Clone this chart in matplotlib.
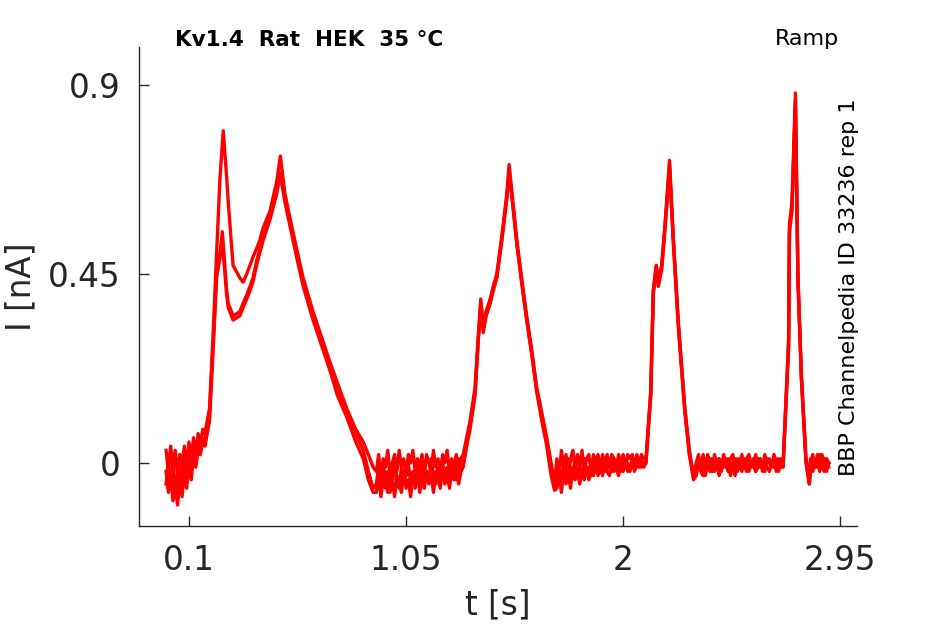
import numpy as np
import matplotlib
matplotlib.use("Agg")
from matplotlib import pyplot as plt

# time points [s], shared by the three repetitions
t_s = [0.00, 0.01, 0.02, 0.03, 0.04, 0.05, 0.06, 0.07, 0.08, 0.09,
       0.10, 0.11, 0.12, 0.13, 0.14, 0.15, 0.16, 0.17, 0.18, 0.19,
       # first ramp
       0.206, 0.221, 0.236, 0.246, 0.25, 0.265, 0.272, 0.293, 0.323, 0.337,
       0.353, 0.367, 0.38, 0.396, 0.41, 0.425, 0.455, 0.484, 0.50, 0.52,
       0.571, 0.60, 0.643, 0.68, 0.717, 0.75, 0.79, 0.83, 0.863, 0.885, 0.906,
       # baseline
       0.92, 0.93, 0.94, 0.95, 0.96, 0.97, 0.98, 0.99, 1.00, 1.01,
       1.02, 1.03, 1.04, 1.05, 1.06, 1.07, 1.08, 1.09, 1.10, 1.11,
       1.12, 1.13, 1.14, 1.15, 1.16, 1.17, 1.18, 1.19, 1.20, 1.21,
       1.22, 1.23, 1.24, 1.25, 1.26, 1.27, 1.28, 1.29, 1.30,
       # second ramp
       1.33, 1.352, 1.367, 1.377, 1.388, 1.40, 1.418, 1.432, 1.447, 1.469, 1.491,
       1.501, 1.518, 1.535, 1.556, 1.578, 1.60, 1.622, 1.644, 1.666, 1.685, 1.70,
       # baseline
       1.71, 1.72, 1.73, 1.74, 1.75, 1.76, 1.77, 1.78, 1.79, 1.80,
       1.81, 1.82, 1.83, 1.84, 1.85, 1.86, 1.87, 1.88, 1.89, 1.90,
       1.91, 1.92, 1.93, 1.94, 1.95, 1.96, 1.97, 1.98, 1.99, 2.00,
       2.01, 2.02, 2.03, 2.04, 2.05, 2.06, 2.07, 2.08, 2.09, 2.10,
       # third ramp
       2.121, 2.132, 2.145, 2.154, 2.169, 2.184, 2.203, 2.22, 2.242, 2.27, 2.29, 2.308,
       # baseline
       2.32, 2.33, 2.34, 2.35, 2.36, 2.37, 2.38, 2.39, 2.40, 2.41,
       2.42, 2.43, 2.44, 2.45, 2.46, 2.47, 2.48, 2.49, 2.50, 2.51,
       2.52, 2.53, 2.54, 2.55, 2.56, 2.57, 2.58, 2.59, 2.60, 2.61,
       2.62, 2.63, 2.64, 2.65, 2.66, 2.67, 2.68, 2.69, 2.70,
       # fourth ramp
       2.724, 2.728, 2.739, 2.754, 2.765, 2.78, 2.80, 2.815,
       # baseline
       2.82, 2.83, 2.84, 2.85, 2.86, 2.87, 2.88, 2.89, 2.90]

# current [nA], repetition with the tall first peak
i_rep1 = [0.03, -0.02, 0.04, -0.01, 0.03, -0.03, 0.02, 0.00, 0.04, -0.01,
          0.05, 0.01, 0.06, 0.02, 0.07, 0.04, 0.08, 0.07, 0.10, 0.13,
          0.31, 0.50, 0.68, 0.76, 0.79, 0.68, 0.62, 0.47, 0.44, 0.43,
          0.45, 0.47, 0.49, 0.51, 0.53, 0.56, 0.60, 0.67, 0.73, 0.64,
          0.51, 0.44, 0.36, 0.30, 0.24, 0.19, 0.13, 0.08, 0.05, 0.02, -0.01,
          -0.02, 0.02, -0.04, 0.01, -0.01, 0.03, -0.03, 0.00, 0.02, -0.02,
          0.03, -0.01, 0.01, -0.03, 0.02, 0.00, 0.03, -0.02, 0.01, -0.01,
          0.02, -0.03, 0.02, 0.00, -0.02, 0.03, -0.01, 0.01, -0.02, 0.02,
          0.00, 0.03, -0.02, 0.01, -0.01, 0.02, -0.02, 0.01, 0.02,
          0.10, 0.18, 0.31, 0.39, 0.33, 0.36, 0.39, 0.42, 0.45, 0.54, 0.64,
          0.71, 0.62, 0.53, 0.44, 0.35, 0.27, 0.18, 0.12, 0.06, 0.00, -0.05,
          0.01, -0.03, 0.03, -0.01, 0.02, -0.04, 0.01, 0.03, -0.02, 0.02,
          -0.01, 0.03, -0.02, 0.01, 0.02, -0.02, 0.02, 0.00, 0.02, -0.01,
          0.02, 0.00, 0.02, -0.01, 0.02, 0.01, -0.01, 0.02, 0.00, 0.02,
          -0.01, 0.02, 0.01, 0.02, -0.01, 0.02, 0.00, 0.02, 0.01, 0.01,
          0.17, 0.41, 0.47, 0.43, 0.47, 0.57, 0.72, 0.53, 0.33, 0.13, 0.03, -0.03,
          0.00, 0.02, -0.02, 0.01, -0.01, 0.02, 0.00, -0.02, 0.02, 0.00,
          0.01, -0.01, 0.02, 0.00, -0.02, 0.01, 0.02, -0.01, 0.01, 0.00,
          0.02, -0.01, 0.01, 0.02, 0.00, -0.01, 0.02, 0.00, 0.01, -0.01,
          0.02, 0.00, 0.01, -0.01, 0.02, 0.00, 0.01, -0.01, 0.00,
          0.29, 0.57, 0.62, 0.88, 0.45, 0.21, 0.01, -0.04,
          0.00, 0.02, -0.01, 0.01, -0.02, 0.02, 0.00, 0.01, -0.01]

# repetitions with the smaller first peak
i_rep2 = [-0.05, 0.01, -0.06, 0.00, -0.08, -0.02, -0.06, 0.01, -0.04, 0.02,
          -0.02, 0.02, 0.00, 0.04, 0.02, 0.05, 0.05, 0.06, 0.09, 0.12,
          0.29, 0.46, 0.50, 0.55, 0.52, 0.41, 0.38, 0.35, 0.36, 0.38,
          0.40, 0.42, 0.44, 0.48, 0.51, 0.55, 0.59, 0.65, 0.68, 0.63,
          0.50, 0.43, 0.35, 0.29, 0.23, 0.18, 0.12, 0.07, 0.03, -0.02, -0.06,
          -0.05, -0.01, -0.06, 0.00, -0.04, -0.07, -0.02, -0.05, 0.01, -0.04,
          -0.06, -0.01, -0.05, -0.03, 0.00, -0.05, -0.02, -0.06, -0.01, -0.04,
          0.00, -0.05, -0.02, -0.04, 0.01, -0.03, -0.05, -0.01, -0.04, 0.00,
          -0.03, -0.01, -0.04, 0.00, -0.02, -0.04, 0.01, -0.02, 0.00,
          0.08, 0.16, 0.30, 0.37, 0.32, 0.35, 0.38, 0.42, 0.44, 0.53, 0.63,
          0.69, 0.61, 0.52, 0.43, 0.34, 0.26, 0.17, 0.11, 0.05, -0.02, -0.06,
          -0.04, 0.00, -0.05, -0.01, -0.03, 0.01, -0.04, -0.02, 0.00, -0.03,
          -0.01, -0.03, 0.01, -0.02, -0.01, -0.03, 0.00, -0.02, 0.01, -0.02,
          0.00, -0.02, 0.01, -0.01, -0.02, 0.01, -0.01, 0.00, -0.02, 0.01,
          -0.01, 0.00, -0.02, 0.01, 0.00, -0.01, 0.01, -0.01, 0.00, 0.00,
          0.16, 0.40, 0.46, 0.42, 0.46, 0.56, 0.70, 0.52, 0.32, 0.12, 0.02, -0.04,
          -0.03, 0.00, -0.02, -0.03, 0.01, -0.01, -0.02, 0.01, -0.02, 0.00,
          -0.03, 0.00, -0.01, 0.01, -0.02, -0.01, 0.00, -0.03, 0.00, -0.01,
          -0.02, 0.01, -0.01, -0.02, 0.00, 0.01, -0.02, -0.01, 0.01, -0.02,
          0.00, -0.01, -0.02, 0.00, -0.01, 0.01, -0.02, 0.00, -0.01,
          0.27, 0.55, 0.60, 0.85, 0.43, 0.20, 0.00, -0.05,
          -0.02, 0.01, -0.01, 0.02, 0.00, -0.01, 0.01, -0.02, 0.00]

i_rep3 = [-0.02, -0.07, -0.03, -0.09, -0.05, -0.10, -0.04, -0.08, -0.02, -0.06,
          0.00, -0.04, 0.02, -0.01, 0.03, 0.02, 0.05, 0.04, 0.07, 0.10,
          0.27, 0.44, 0.49, 0.53, 0.50, 0.40, 0.37, 0.34, 0.35, 0.37,
          0.39, 0.41, 0.43, 0.47, 0.50, 0.53, 0.58, 0.64, 0.69, 0.62,
          0.49, 0.42, 0.34, 0.28, 0.22, 0.16, 0.11, 0.05, 0.01, -0.04, -0.07,
          -0.07, -0.03, -0.08, -0.04, -0.06, -0.02, -0.07, -0.04, -0.08, -0.03,
          -0.05, -0.07, -0.02, -0.06, -0.04, -0.08, -0.03, -0.05, -0.02, -0.07,
          -0.04, -0.06, -0.02, -0.05, -0.03, -0.07, -0.02, -0.04, -0.06, -0.01,
          -0.05, -0.03, -0.06, -0.02, -0.04, -0.01, -0.05, -0.02, -0.01,
          0.09, 0.17, 0.30, 0.38, 0.31, 0.35, 0.38, 0.41, 0.44, 0.53, 0.63,
          0.70, 0.61, 0.52, 0.43, 0.34, 0.26, 0.17, 0.10, 0.04, -0.03, -0.065,
          -0.06, -0.03, -0.07, -0.02, -0.05, -0.03, -0.06, -0.01, -0.04, -0.02,
          -0.05, -0.02, -0.04, -0.01, -0.04, -0.02, -0.03, 0.00, -0.03, -0.01,
          -0.03, 0.00, -0.02, -0.03, 0.00, -0.02, -0.01, -0.03, 0.00, -0.02,
          0.00, -0.02, -0.01, 0.00, -0.02, 0.00, -0.01, 0.01, -0.01, 0.00,
          0.17, 0.41, 0.47, 0.43, 0.47, 0.57, 0.71, 0.53, 0.33, 0.13, 0.02, -0.03,
          -0.02, 0.01, -0.01, 0.02, -0.03, 0.00, 0.01, -0.02, 0.00, -0.01,
          0.01, -0.02, 0.00, -0.01, 0.01, -0.03, 0.00, 0.01, -0.02, 0.01,
          -0.01, 0.00, -0.02, 0.01, -0.01, 0.00, -0.02, 0.01, -0.01, 0.00,
          -0.02, 0.01, 0.00, -0.01, 0.01, -0.02, 0.00, 0.01, -0.01,
          0.28, 0.56, 0.61, 0.86, 0.44, 0.21, 0.01, -0.05,
          0.01, -0.02, 0.00, -0.01, 0.02, -0.01, -0.02, 0.01, 0.00]

x_ticks = [0.1, 1.05, 2, 2.95]
x_ticklabels = ["0.1", "1.05", "2", "2.95"]
y_ticks = [0, 0.45, 0.9]
y_ticklabels = ["0", "0.45", "0.9"]

text_col = "#262626"

fig = plt.figure(figsize=(9.45, 6.24), dpi=100)
ax = fig.add_axes([0.147, 0.157, 0.76, 0.768])

for rep in [i_rep3, i_rep2, i_rep1]:
    n = min(len(t_s), len(rep))
    ax.plot(t_s[:n], rep[:n], color="#ff0000", lw=2.4)

ax.set_xlim(-0.119, 3.024)
ax.set_ylim(-0.15, 0.99)
ax.set_xticks(x_ticks)
ax.set_xticklabels(x_ticklabels)
ax.set_yticks(y_ticks)
ax.set_yticklabels(y_ticklabels)
ax.tick_params(direction="in", length=7, width=1, colors=text_col,
               labelsize=23.5, pad=13)

for side in ["top", "right"]:
    ax.spines[side].set_visible(False)
for side in ["left", "bottom"]:
    ax.spines[side].set_color(text_col)
    ax.spines[side].set_linewidth(1)

ax.set_xlabel("t [s]", fontsize=23.5, color=text_col, labelpad=8)
ax.set_ylabel("I [nA]", fontsize=23.5, color=text_col, labelpad=8)

fig.text(175 / 945, 1 - 40 / 624, "Kv1.4  Rat  HEK  35 °C", fontsize=15.5,
         fontweight="bold", color="black", ha="left", va="center")
fig.text(807 / 945, 1 - 39 / 624, "Ramp", fontsize=16, color="black",
         ha="center", va="center")
fig.text(849 / 945, 1 - 287 / 624, "BBP Channelpedia ID 33236 rep 1",
         fontsize=16, color="black", rotation=90, ha="center", va="center")

fig.savefig("out.png", dpi=100)
